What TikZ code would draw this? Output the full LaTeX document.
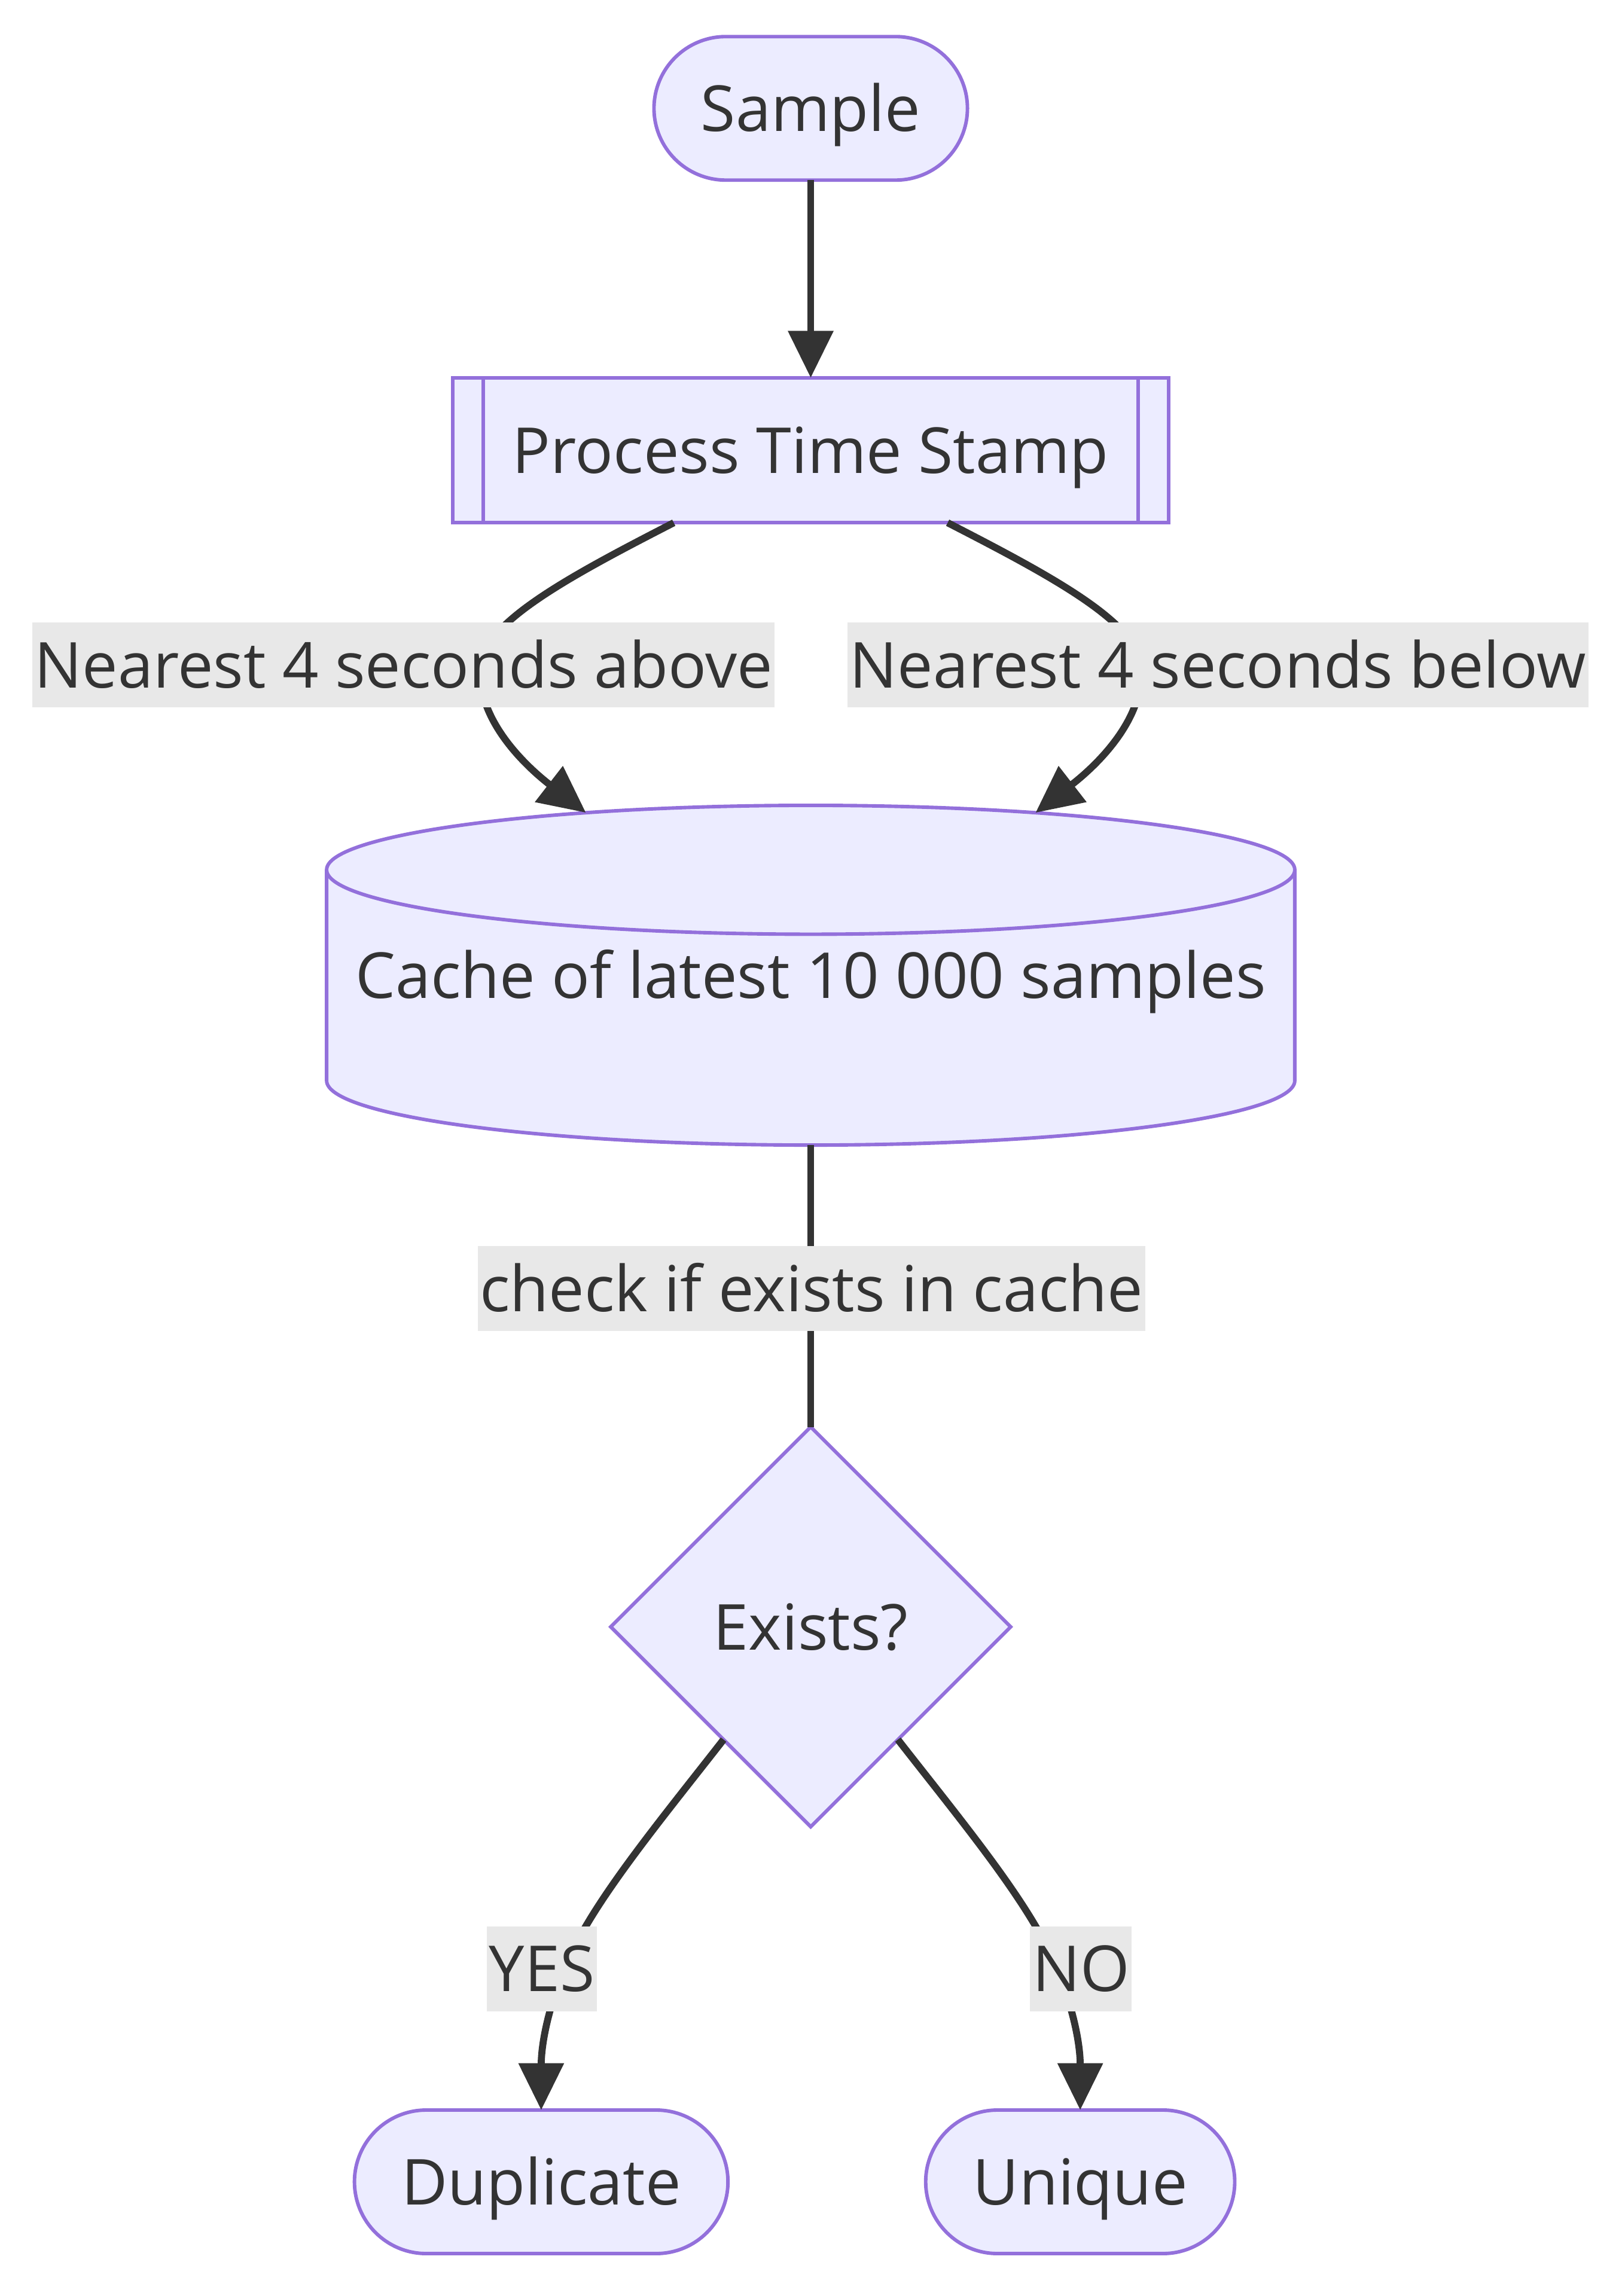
\documentclass[tikz,border=0pt]{standalone}
\usepackage{fontspec}
\setmainfont{Open Sans}
\usetikzlibrary{shapes.geometric,arrows.meta,calc}
\definecolor{nodefill}{HTML}{ECECFF}
\definecolor{nodeborder}{HTML}{9370DB}
\definecolor{ink}{HTML}{333333}
\definecolor{labelbg}{HTML}{E8E8E8}
\begin{document}
\begin{tikzpicture}[x=1pt,y=-1pt,
  every node/.style={font=\fontsize{43.3}{52}\selectfont, text=ink, text height=31.2pt, text depth=0pt, inner sep=0pt, outer sep=0pt},
  base/.style={draw=nodeborder, fill=nodefill, line width=2.4pt},
  stadium/.style={base, rectangle, rounded corners=49pt, minimum height=98pt},
  procbox/.style={base, rectangle, minimum width=489pt, minimum height=99pt},
  decision/.style={base, diamond, minimum width=273pt, minimum height=273pt, aspect=1},
  elabel/.style={fill=labelbg, inner xsep=1.5pt, minimum height=58pt},
  link/.style={draw=ink, line width=4.8pt},
  arrow/.style={link, -{Triangle[length=32pt,width=30pt]}},
  cylline/.style={draw=nodeborder, line width=2.4pt},
]
\useasboundingbox (0,0) rectangle (1107,1568);

% nodes
\node[stadium, minimum width=214pt] (sample) at (553.5,74) {Sample};
\node[procbox] (proc) at (553.5,307.5) {Process Time Stamp};
\draw[cylline] ($(proc.north west)+(21,0)$) -- ($(proc.south west)+(21,0)$);
\draw[cylline] ($(proc.north east)+(-21,0)$) -- ($(proc.south east)+(-21,0)$);

% cylinder body
\path[fill=nodefill] (223,594) -- (223,738) arc[start angle=180, end angle=360, x radius=330.5pt, y radius=44pt] -- (884,594) -- cycle;
\path[cylline] (223,594) -- (223,738) arc[start angle=180, end angle=360, x radius=330.5pt, y radius=44pt] -- (884,594);
\path[cylline, fill=nodefill] (553.5,594) ellipse [x radius=330.5pt, y radius=44pt];
\node[minimum width=661pt, minimum height=232pt] (cache) at (553.5,666) {Cache of latest 10 000 samples};

\node[decision] (exists) at (553.5,1111) {Exists?};
\node[stadium, minimum width=255pt] (dup) at (369.5,1490) {Duplicate};
\node[stadium, minimum width=211pt] (uniq) at (737.5,1490) {Unique};

% connectors
\draw[arrow] (sample.south) -- (proc.north);
\draw[arrow] ($(proc.south west)+(151,0)$) .. controls (390,393) and (330,425) .. (328,455)
  .. controls (325,492) and (360,524) .. ($(cache.north)+(-153.5,5)$);
\draw[arrow] ($(proc.south east)+(-151,0)$) .. controls (717,393) and (777,425) .. (779,455)
  .. controls (782,492) and (747,524) .. ($(cache.north)+(153.5,5)$);
\draw[link] (cache.south) -- (exists.north);
\draw[arrow] ($(exists.south)!0.436!(exists.west)$) .. controls (455,1238) and (412,1290) .. (392,1330)
  .. controls (375,1365) and (369.5,1395) .. (dup.north);
\draw[arrow] ($(exists.south)!0.436!(exists.east)$) .. controls (652,1238) and (695,1290) .. (715,1330)
  .. controls (732,1365) and (737.5,1395) .. (uniq.north);

% edge labels
\node[elabel] (labA) at (275.5,454) {Nearest 4 seconds above};
\node[elabel] (labB) at (831.5,454) {Nearest 4 seconds below};
\node[elabel] (labC) at (554,880) {check if exists in cache};
\node[elabel] (labY) at (370,1344.5) {YES};
\node[elabel] (labN) at (738,1344.5) {NO};
\end{tikzpicture}
\end{document}
